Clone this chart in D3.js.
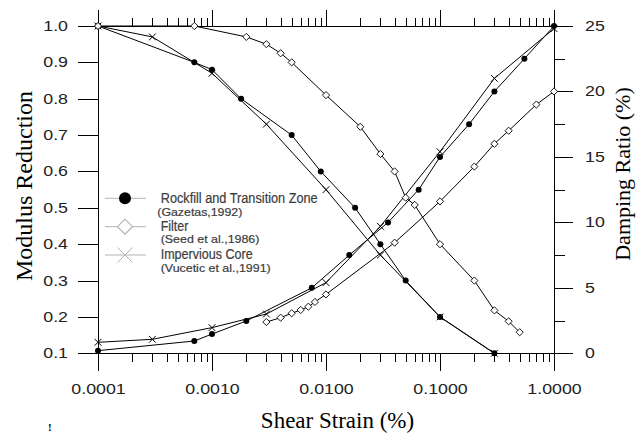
<!DOCTYPE html>
<html><head><meta charset="utf-8">
<script src="https://cdn.jsdelivr.net/npm/d3@7"></script>
<style>body{margin:0;background:#fff}svg{display:block}</style>
</head><body>
<svg id="c" width="637" height="434"></svg>
<script>
// ---- data ----
const rockG_x = [0.0001, 0.0007, 0.001, 0.0018, 0.005, 0.009, 0.018, 0.03, 0.05, 0.1, 0.3];
const rockG_y = [1.0, 0.9, 0.88, 0.8, 0.7, 0.6, 0.5, 0.4, 0.3, 0.2, 0.1];
const coreG_x = [0.0001, 0.0003, 0.001, 0.003, 0.01, 0.03, 0.1, 0.3];
const coreG_y = [1.0, 0.97, 0.87, 0.73, 0.55, 0.37, 0.2, 0.1];
const filterG_x = [0.0001, 0.0007, 0.002, 0.003, 0.004, 0.005, 0.01, 0.02, 0.03, 0.04, 0.05, 0.06, 0.1, 0.2, 0.3, 0.4, 0.5];
const filterG_y = [1.0, 1.0, 0.97, 0.95, 0.925, 0.9, 0.81, 0.723, 0.648, 0.6, 0.528, 0.508, 0.4, 0.3, 0.218, 0.188, 0.158];
const rockD_x = [0.0001, 0.0007, 0.001, 0.002, 0.0075, 0.016, 0.035, 0.065, 0.1, 0.18, 0.3, 0.55, 1.0];
const rockD_y = [0.2, 0.94, 1.47, 2.47, 5.0, 7.5, 10, 12.5, 15, 17.5, 20, 22.5, 25];
const coreD_x = [0.0001, 0.0003, 0.001, 0.003, 0.01, 0.03, 0.1, 0.3, 1.0];
const coreD_y = [0.84, 1.07, 1.96, 3.0, 5.4, 9.7, 15.4, 21.0, 24.8];
const filterD_x = [0.003, 0.004, 0.005, 0.006, 0.007, 0.008, 0.01, 0.04, 0.1, 0.2, 0.3, 0.4, 0.7, 1.0];
const filterD_y = [2.39, 2.72, 3.06, 3.31, 3.56, 3.92, 4.5, 8.45, 11.6, 14.26, 16.0, 17.0, 19.0, 20.0];

const xMajor = [0.0001, 0.001, 0.01, 0.1, 1];
const xLabels = ["0.0001", "0.0010", "0.0100", "0.1000", "1.0000"];
const yLeftTicks = [0.1, 0.2, 0.3, 0.4, 0.5, 0.6, 0.7, 0.8, 0.9, 1.0];
const yRightMajor = [0, 5, 10, 15, 20, 25];
const yRightMinor = [2.5, 7.5, 12.5, 17.5, 22.5];
const legendTitles = ["Rockfill and Transition Zone", "Filter", "Impervious Core"];
const legendRefs = ["(Gazetas,1992)", "(Seed et al.,1986)", "(Vucetic et al.,1991)"];
const xTitle = "Shear Strain (%)", yLeftTitle = "Modulus Reduction", yRightTitle = "Damping Ratio (%)";

// ---- scales ----
const svg = d3.select("#c");
const X0 = 98, X1 = 554, Y0 = 26, Y1 = 353.3;
const x = d3.scaleLog().domain([0.0001, 1]).range([X0, X1]);
const yL = d3.scaleLinear().domain([0.1, 1.0]).range([Y1, Y0]);
const yR = d3.scaleLinear().domain([0, 25]).range([Y1, Y0]);

const xMinor = [];
for (let e = -4; e < 0; e++) for (let k = 2; k <= 9; k++) xMinor.push(k * Math.pow(10, e));

const tickFont = "'Liberation Sans', Arial, sans-serif";
function styleAxis(g) {
  g.selectAll("path.domain").attr("stroke", "#000").attr("stroke-width", 1).attr("shape-rendering", "crispEdges");
  g.selectAll("line").attr("stroke", "#000").attr("stroke-width", 1).attr("shape-rendering", "crispEdges");
  g.selectAll("text").attr("font-family", tickFont).attr("font-size", 14).attr("fill", "#222");
}
function stretch(g, f) {
  g.selectAll("text").each(function () {
    const w = this.getComputedTextLength();
    d3.select(this).attr("textLength", w * f).attr("lengthAdjust", "spacingAndGlyphs");
  });
}

// bottom axis
const gB = svg.append("g").attr("transform", `translate(0,${Y1})`)
  .call(d3.axisBottom(x).tickValues(xMajor).tickSize(18).tickSizeOuter(0).tickPadding(13)
    .tickFormat((d, i) => xLabels[i]));
styleAxis(gB); stretch(gB, 1.27);
const gBm = svg.append("g").attr("transform", `translate(0,${Y1})`)
  .call(d3.axisBottom(x).tickValues(xMinor).tickSize(9).tickSizeOuter(0).tickFormat(""));
styleAxis(gBm);
// top axis
const gT = svg.append("g").attr("transform", `translate(0,${Y0})`)
  .call(d3.axisTop(x).tickValues(xMajor).tickSize(16).tickSizeOuter(0).tickFormat(""));
styleAxis(gT);
const gTm = svg.append("g").attr("transform", `translate(0,${Y0})`)
  .call(d3.axisTop(x).tickValues(xMinor).tickSize(8).tickSizeOuter(0).tickFormat(""));
styleAxis(gTm);
// left axis
const gL = svg.append("g").attr("transform", `translate(${X0},0)`)
  .call(d3.axisLeft(yL).tickValues(yLeftTicks).tickSize(20).tickSizeOuter(0).tickPadding(10)
    .tickFormat(d3.format(".1f")));
styleAxis(gL); stretch(gL, 1.27);
// right axis
const gR = svg.append("g").attr("transform", `translate(${X1},0)`)
  .call(d3.axisRight(yR).tickValues(yRightMajor).tickSize(19).tickSizeOuter(0).tickPadding(12)
    .tickFormat(d3.format("d")));
styleAxis(gR); stretch(gR, 1.27);
const gRm = svg.append("g").attr("transform", `translate(${X1},0)`)
  .call(d3.axisRight(yR).tickValues(yRightMinor).tickSize(11).tickSizeOuter(0).tickFormat(""));
styleAxis(gRm);

// ---- titles ----
const serif = "'Liberation Serif', 'Times New Roman', serif";
svg.append("text").attr("x", 337.5).attr("y", 428).attr("text-anchor", "middle")
  .attr("font-family", serif).attr("font-size", 23).text(xTitle);
svg.append("text").attr("transform", "translate(32,186) rotate(-90)").attr("text-anchor", "middle")
  .attr("font-family", serif).attr("font-size", 24).text(yLeftTitle);
svg.append("text").attr("transform", "translate(630,174) rotate(-90)").attr("text-anchor", "middle")
  .attr("font-family", serif).attr("font-size", 22).text(yRightTitle);
svg.append("text").attr("x", 48).attr("y", 431).attr("font-family", serif)
  .attr("font-size", 11).attr("font-weight", "bold").text("!");

// ---- series ----
const plot = svg.append("g");
const series = [
  {xs: rockG_x, ys: rockG_y, y: yL, m: "circle"},
  {xs: coreG_x, ys: coreG_y, y: yL, m: "x"},
  {xs: filterG_x, ys: filterG_y, y: yL, m: "diamond"},
  {xs: rockD_x, ys: rockD_y, y: yR, m: "circle"},
  {xs: coreD_x, ys: coreD_y, y: yR, m: "x"},
  {xs: filterD_x, ys: filterD_y, y: yR, m: "diamond"}
];
const line = d3.line();
series.forEach(s => {
  const pts = s.xs.map((v, i) => [x(v), s.y(s.ys[i])]);
  plot.append("path").attr("d", line(pts)).attr("fill", "none").attr("stroke", "#000").attr("stroke-width", 1);
});
function marker(g, m, cx, cy, r, col, big) {
  if (m === "circle") {
    g.append("circle").attr("cx", cx).attr("cy", cy).attr("r", r).attr("fill", "#000");
  } else if (m === "diamond") {
    g.append("path").attr("d", `M${cx},${cy - r}L${cx + r},${cy}L${cx},${cy + r}L${cx - r},${cy}Z`)
      .attr("fill", "#fff").attr("stroke", col).attr("stroke-width", big ? 1.2 : 0.9);
  } else {
    g.append("path").attr("d", `M${cx - r},${cy - r}L${cx + r},${cy + r}M${cx - r},${cy + r}L${cx + r},${cy - r}`)
      .attr("stroke", col).attr("stroke-width", 1).attr("fill", "none");
  }
}
series.forEach(s => {
  s.xs.forEach((v, i) => {
    const r = s.m === "circle" ? 3 : s.m === "diamond" ? 3.6 : 3.4;
    marker(plot, s.m, x(v), s.y(s.ys[i]), r, "#000", false);
  });
});

// ---- legend ----
const lg = svg.append("g");
const legMarks = ["circle", "diamond", "x"];
const legY = [198.3, 226.7, 255];
const titleW = [157, 27.7, 92], refW = [85, 98.7, 110];
const titleY = [203, 231, 259], refY = [216, 243, 272];
const refX = [157.3, 160.7, 160.7];
legMarks.forEach((m, i) => {
  lg.append("line").attr("x1", 105).attr("x2", 146).attr("y1", legY[i]).attr("y2", legY[i])
    .attr("stroke", "#b4b4b4").attr("stroke-width", 1);
  marker(lg, m, 125, legY[i], m === "circle" ? 6 : 7.5, "#b4b4b4", true);
  lg.append("text").attr("x", 160.7).attr("y", titleY[i]).attr("font-family", tickFont)
    .attr("font-size", 14).attr("fill", "#3c3c3c").attr("stroke", "#3c3c3c").attr("stroke-width", 0.2)
    .attr("textLength", titleW[i]).attr("lengthAdjust", "spacingAndGlyphs").text(legendTitles[i]);
  lg.append("text").attr("x", refX[i]).attr("y", refY[i]).attr("font-family", tickFont)
    .attr("font-size", 11.5).attr("fill", "#3c3c3c").attr("stroke", "#3c3c3c").attr("stroke-width", 0.2)
    .attr("textLength", refW[i]).attr("lengthAdjust", "spacingAndGlyphs").text(legendRefs[i]);
});
</script>
</body></html>
